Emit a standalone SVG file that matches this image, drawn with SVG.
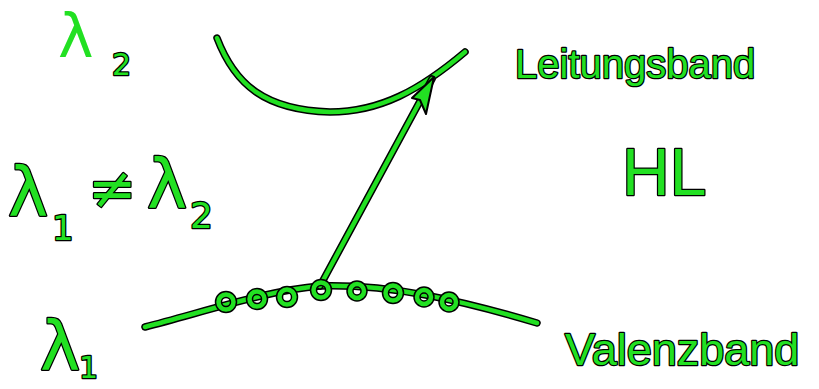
<svg xmlns="http://www.w3.org/2000/svg" width="819" height="389" viewBox="0 0 819 389">
<style>
.o{fill:none;stroke:#000;stroke-width:7.5;stroke-linecap:round;stroke-linejoin:round}
.g{fill:none;stroke:#22e022;stroke-width:4.5;stroke-linecap:round;stroke-linejoin:round}
.t{font-family:"DejaVu Sans","Liberation Sans",sans-serif;fill:#22e022;stroke:#000;stroke-width:2.5;paint-order:stroke;stroke-linejoin:round}
.w{font-family:"Liberation Sans",Arial,sans-serif;fill:#22e022;stroke:#000;stroke-width:2.5;paint-order:stroke;stroke-linejoin:round}
.thin{font-family:"DejaVu Sans","Liberation Sans",sans-serif;fill:#22e022}
</style>
<defs>
<path id="cb" d="M217,38 C235,85 265,110 330,112 C380,112 420,90 465,52"/>
<path id="vb" d="M145,327 C210,310 270,290 320,286 C390,284 460,300 537,323"/>
<path id="ar" d="M320,286 L432,79"/>
<g id="holes">
<circle cx="226" cy="302" r="7.5"/><circle cx="257" cy="299" r="7.5"/><circle cx="287" cy="297" r="7.5"/><circle cx="321" cy="290" r="7.5"/>
<circle cx="357" cy="291" r="7"/><circle cx="393" cy="293" r="7.5"/><circle cx="424" cy="297" r="7"/><circle cx="449" cy="302" r="7"/>
</g>
<polygon id="ah" points="434,77 412,98 420,100 426,114"/>
</defs>
<g id="connectors">
<use href="#cb" class="o"/><use href="#cb" class="g"/>
<use href="#vb" class="o"/><use href="#vb" class="g"/>
<use href="#ar" class="o"/><use href="#ar" class="g"/>
<use href="#ah" style="fill:#22e022;stroke:#000;stroke-width:2;stroke-linejoin:round"/>
<use href="#holes" class="o"/><use href="#holes" class="g"/>
</g>
<g id="lambda2-top">
<text class="thin" x="58" y="57" font-size="60">λ</text>
<text class="t" x="112" y="75" font-size="30">2</text>
</g>
<g id="lambda-neq">
<text class="t" x="8" y="216" font-size="68">λ</text>
<text class="t" x="52" y="240" font-size="34">1</text>
<text class="t" x="88" y="208" font-size="58">≠</text>
<text class="t" x="147" y="208" font-size="68">λ</text>
<text class="t" x="190" y="228" font-size="36">2</text>
</g>
<g id="lambda1">
<text class="t" x="40" y="370" font-size="68">λ</text>
<text class="t" x="79" y="378" font-size="30">1</text>
</g>
<g id="leitungsband">
<text class="w" x="515" y="78" font-size="40">Leitungsband</text>
</g>
<g id="hl">
<text class="w" x="622" y="195" font-size="66">HL</text>
</g>
<g id="valenzband">
<text class="w" x="565" y="365" font-size="45">Valenzband</text>
</g>
</svg>
